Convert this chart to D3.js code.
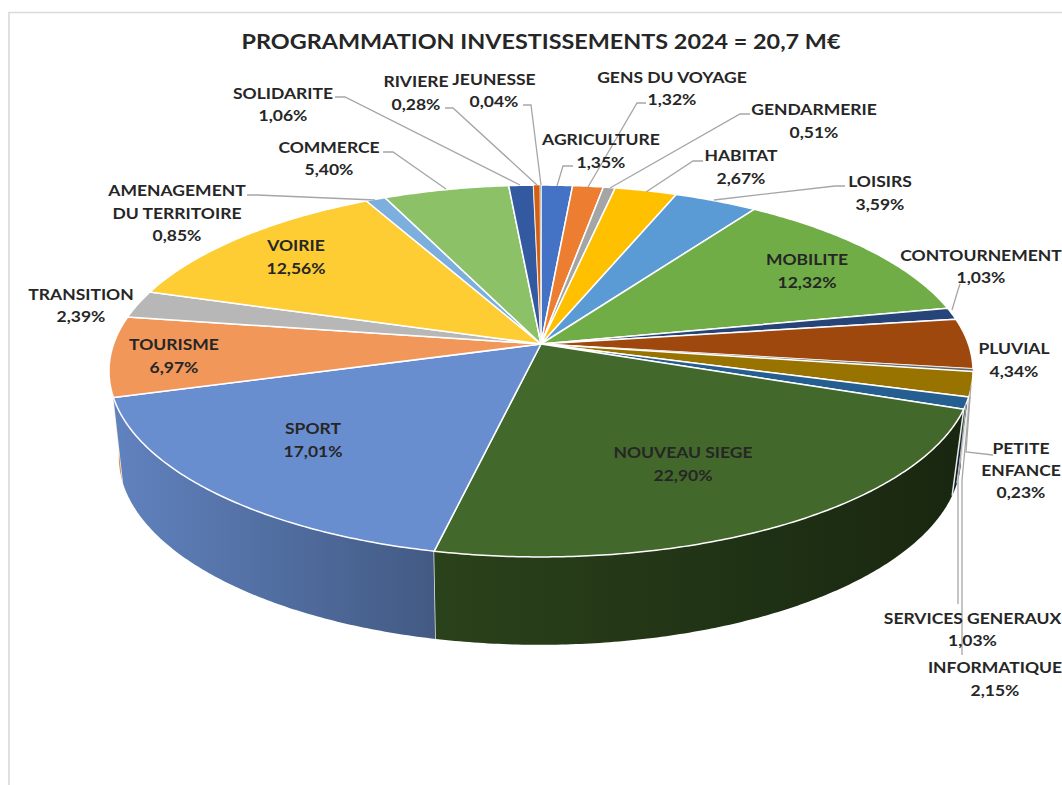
<!DOCTYPE html>
<html><head><meta charset="utf-8">
<style>html,body{margin:0;padding:0;background:#fff;overflow:hidden}svg{display:block}text{font-family:Lato,"Open Sans",sans-serif;font-weight:700;fill:#262626}</style>
<script src="https://cdn.jsdelivr.net/npm/d3@7/dist/d3.min.js"></script>
</head><body><svg id="c" width="1062" height="785"></svg>
<script>
const chartTitle = "PROGRAMMATION INVESTISSEMENTS 2024 = 20,7 M€";
const categories = ["AGRICULTURE","GENS DU VOYAGE","GENDARMERIE","HABITAT","LOISIRS","MOBILITE","CONTOURNEMENT","PLUVIAL","PETITE ENFANCE","INFORMATIQUE","SERVICES GENERAUX","NOUVEAU SIEGE","SPORT","TOURISME","TRANSITION","VOIRIE","AMENAGEMENT DU TERRITOIRE","COMMERCE","SOLIDARITE","RIVIERE","JEUNESSE"];
const shares = [1.35,1.32,0.51,2.67,3.59,12.32,1.03,4.34,0.23,2.15,1.03,22.90,17.01,6.97,2.39,12.56,0.85,5.40,1.06,0.28,0.04];
const sliceColors = ["#4472c4","#ed7d31","#a5a5a5","#ffc000","#5b9bd5","#70ad47","#264478","#9e480e","#636363","#997300","#255e91","#43682b","#698ed0","#f1975a","#b7b7b7","#fdcd33","#7cafdd","#8cc168","#335aa1","#d26012","#7f7f7f"];
// label layout: text lines with centre x / y of each line, then optional leader polyline
const labelLayout = [
 {l:["AGRICULTURE"],x:601,y:140,dy:23,lead:[[573,166],[563,166],[557,186]]},
 {l:["GENS DU VOYAGE"],x:672,y:78,dy:22,lead:[[646,103],[637,103],[588,187]]},
 {l:["GENDARMERIE"],x:814,y:110,dy:23,lead:[[750,114],[740,114],[610,188]]},
 {l:["HABITAT"],x:741,y:156,dy:23,lead:[[703,161],[693,161],[646,192]]},
 {l:["LOISIRS"],x:880,y:182,dy:23,lead:[[845,186],[835,186],[714,200]]},
 {l:["MOBILITE"],x:807,y:260,dy:23},
 {l:["CONTOURNEMENT"],x:981,y:256,dy:22,lead:[[960,284],[958,290],[952,310]]},
 {l:["PLUVIAL"],x:1014,y:349,dy:23},
 {l:["PETITE","ENFANCE"],x:1021,y:449,dy:22,lead:[[993,455],[966,452],[970,397]]},
 {l:["INFORMATIQUE"],x:995,y:668,dy:23,lead:[[962,655],[962,480],[971,385]]},
 {l:["SERVICES GENERAUX"],x:972.5,y:619,dy:22,lead:[[958,604],[958,480],[966,404]]},
 {l:["NOUVEAU SIEGE"],x:683,y:453,dy:23},
 {l:["SPORT"],x:313,y:429,dy:23},
 {l:["TOURISME"],x:174,y:345,dy:23},
 {l:["TRANSITION"],x:81,y:295,dy:22},
 {l:["VOIRIE"],x:296,y:246,dy:23},
 {l:["AMENAGEMENT","DU TERRITOIRE"],x:177,y:191,dy:22.5,lead:[[247,195],[257,195],[375,200]]},
 {l:["COMMERCE"],x:329,y:148,dy:22,lead:[[383,152],[393,152],[446,189]]},
 {l:["SOLIDARITE"],x:283,y:94,dy:22,lead:[[335,97],[345,97],[520,185]]},
 {l:["RIVIERE"],x:416,y:82,dy:23,lead:[[445,108],[453,108],[537,185]]},
 {l:["JEUNESSE"],x:494,y:80,dy:22,lead:[[523,105],[531,105],[541,185]]}
];

const svg = d3.select("#c"), defs = svg.append("defs");
// frame
svg.append("path").attr("d","M9 785V12.5H1062").attr("fill","none").attr("stroke","#d9d9d9").attr("stroke-width",1.6);

// projection of the unit disk
const CX=541, CY=344, R=427.4, S=182, K=0.1453;
const top3 = a => { const u=Math.sin(a), v=-Math.cos(a), w=1-K*v; return [CX+R*u/w, CY+S*v/w]; };
const bot3 = a => { const p=top3(a); return [540+(p[0]-541)*0.975, 457+(p[1]-371)*1.01]; };
const line = d3.line();
const arcs = d3.pie().sort(null).value(d=>d)(shares);
const angles = (a0,a1) => { const n=Math.max(2,Math.ceil((a1-a0)/0.01)); return d3.range(n+1).map(i=>a0+(a1-a0)*i/n); };

// wall brightness as a function of x
const shade = d3.scaleLinear().domain([110,437,960]).range([0.92,0.63,0.37]);
const dim = (c,f)=>{const r=d3.rgb(c);return d3.rgb(r.r*f,r.g*f,r.b*f).formatHex();};

// walls: back sides first, front last
const wallMin=Math.PI*0.5, wallMax=Math.PI*1.5;
const walls = arcs.map((d,i)=>({i,a0:Math.max(d.startAngle,wallMin),a1:Math.min(d.endAngle,wallMax)})).filter(w=>w.a1>w.a0);
walls.sort((p,q)=>Math.abs((q.a0+q.a1)/2-Math.PI)-Math.abs((p.a0+p.a1)/2-Math.PI));
const wallG = svg.append("g");
walls.forEach(w=>{
  const as=angles(w.a0,w.a1), t=as.map(top3), b=as.map(bot3).reverse();
  const xs=t.concat(b).map(p=>p[0]), x0=d3.min(xs), x1=d3.max(xs), id="w"+w.i;
  const g=defs.append("linearGradient").attr("id",id).attr("gradientUnits","userSpaceOnUse").attr("x1",x0).attr("x2",x1).attr("y1",0).attr("y2",0);
  d3.range(9).forEach(k=>{const x=x0+(x1-x0)*k/8;g.append("stop").attr("offset",k/8).attr("stop-color",dim(sliceColors[w.i],shade(x)));});
  wallG.append("path").attr("d",line(t.concat(b))+"Z").attr("fill",`url(#${id})`);
  // seams between visible neighbouring walls
  if(w.a0>wallMin+0.01) wallG.append("path").attr("d",line([top3(w.a0),bot3(w.a0)])).attr("stroke","#e8ece4").attr("stroke-width",1.5).attr("fill","none");
});

// top surface
const topG = svg.append("g");
arcs.forEach((d,i)=>{
  const pts=[[CX,CY]].concat(angles(d.startAngle,d.endAngle).map(top3));
  topG.append("path").attr("d",line(pts)+"Z").attr("fill",sliceColors[i]).attr("stroke","#fff").attr("stroke-width",shares[i]<0.3?0.5:1.5).attr("stroke-linejoin","round");
});

// leaders
const leadG = svg.append("g");
labelLayout.forEach(L=>{ if(L.lead) leadG.append("path").attr("d",line(L.lead)).attr("fill","none").attr("stroke","#a6a6a6").attr("stroke-width",1.3); });

// labels, widened horizontally like the reference
const fmt = v => v.toFixed(2).replace(".",",")+"%";
const textG = svg.append("g").attr("font-size",15.5).attr("text-anchor","middle");
labelLayout.forEach((L,i)=>{
  const lines=L.l.concat([fmt(shares[i])]);
  lines.forEach((s,k)=>textG.append("text").attr("transform",`translate(${L.x},${L.y+k*L.dy}) scale(1.13,1)`).attr("dy","0.35em").text(s));
});
svg.append("text").attr("transform","translate(541,42) scale(1.114,1)").attr("dy","0.35em").attr("text-anchor","middle").attr("font-size",21).attr("fill","#1a1a1a").text(chartTitle);
</script></body></html>
